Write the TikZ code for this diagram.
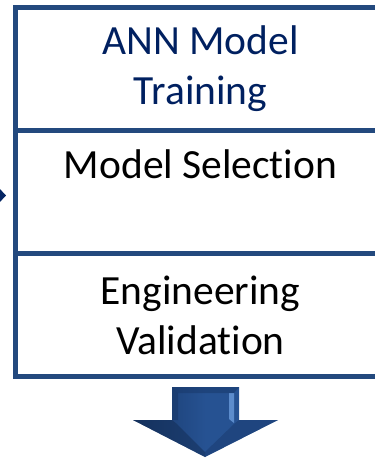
\documentclass[tikz,border=0pt]{standalone}
\usepackage{fontspec}
\setmainfont{Carlito}[Ligatures=NoCommon]
\usetikzlibrary{positioning}

\definecolor{boxblue}{RGB}{35,73,126}
\definecolor{titleblue}{RGB}{0,32,96}
\definecolor{arrowblue}{RGB}{38,82,146}
\definecolor{arrowdark}{RGB}{24,55,104}
\definecolor{arrowlight}{RGB}{92,140,204}

\begin{document}
\begin{tikzpicture}[x=1pt, y=1pt,
    stage/.style={draw=boxblue, line width=5pt, minimum width=370pt, minimum height=123pt,
      inner sep=0pt, outer sep=0pt, align=center, font=\fontsize{41.5}{50}\selectfont},
    stagetext/.style={inner sep=0pt, font=\fontsize{41.5}{50}\selectfont}]
    \useasboundingbox (0,0) rectangle (375,-459);
    \clip (0,0) rectangle (375,-459);

    % the three stacked stages
    \node[stage, text=titleblue] (train) at (200.5,-69) {ANN Model\\Training};
    \node[stage, below=0pt of train] (select) {};
    \node[stage, below=0pt of select] (valid) {Engineering\\Validation};
    \node[stagetext, anchor=base] (selectlbl) at ([yshift=-47.5pt]select.north) {Model Selection};

    % incoming arrow tip on the left
    \begin{scope}[shift={(select.west)}]
        \fill[titleblue!85!boxblue] (-24,12) -- (-9.5,-3.5) -- (-24,-19) -- cycle;
    \end{scope}

    % outgoing block arrow
    \coordinate (tip) at ([xshift=4.5pt, yshift=-80.5pt]valid.south);
    \begin{scope}[shift={(tip)}]
        \shade[left color=arrowdark, right color=arrowblue, middle color=arrowblue]
            (-33,70) -- (34,70) -- (34,37) -- (73,37) -- (0,0) -- (-72,37) -- (-33,37) -- cycle;
        % bevels
        \fill[arrowdark!80!black, opacity=0.5] (-72,37) -- (-33,37) -- (-28,33) -- (0,5) -- (0,0) -- cycle;
        \fill[arrowdark, opacity=0.45] (73,37) -- (34,37) -- (29,33) -- (0,5) -- (0,0) -- cycle;
        \fill[arrowdark, opacity=0.6] (-33,70) -- (-27,64) -- (-27,37) -- (-33,37) -- cycle;
        \fill[arrowlight] (24,64) -- (29,64) -- (29,34) -- (24,38) -- cycle;
        \fill[arrowdark, opacity=0.5] (-33,70) -- (34,70) -- (29,64) -- (-27,64) -- cycle;
    \end{scope}
\end{tikzpicture}
\end{document}
